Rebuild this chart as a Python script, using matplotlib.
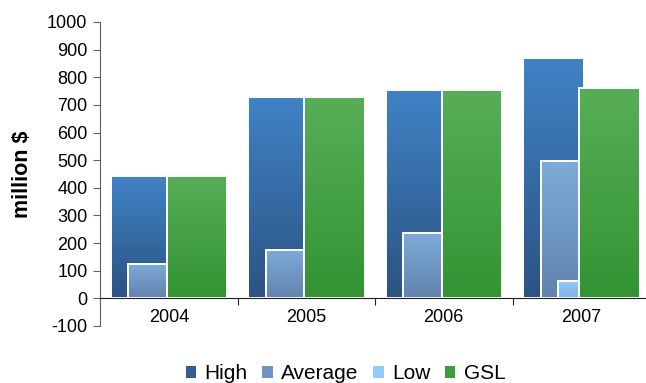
import numpy as np
import matplotlib
matplotlib.use("Agg")
from matplotlib import pyplot as plt
from matplotlib.colors import LinearSegmentedColormap
from matplotlib.patches import Patch

plt.rcParams['font.family'] = ['Liberation Sans', 'DejaVu Sans']
plt.rcParams['axes.unicode_minus'] = False

years = ['2004', '2005', '2006', '2007']
high = [442, 728, 754, 871]
average = [124, 174, 236, 496]
low = [0, 0, 0, 63]
gsl = [442, 728, 754, 762]

# (name, values, left offset inside category, width, top colour, bottom colour)
series = [
    ('High', high, 0.078, 0.44, '#4083c6', '#2b5382'),
    ('Average', average, 0.204, 0.31, '#7eabda', '#6183ad'),
    ('Low', low, 0.328, 0.19, '#95c9f8', '#7fb3e6'),
    ('GSL', gsl, 0.487, 0.44, '#58ae58', '#329432'),
]
legend_colors = ['#2f5f95', '#6d94c2', '#95c9f8', '#3d9c3d']

fig = plt.figure(figsize=(6.46, 3.83), dpi=100)
ax = fig.add_axes([100 / 646, 1 - 326 / 383, 550 / 646, 304 / 383])

grad = np.linspace(0, 1, 256).reshape(-1, 1)
for k, (name, vals, off, w, top, bottom) in enumerate(series):
    cmap = LinearSegmentedColormap.from_list(name, [bottom, top])
    for i, v in enumerate(vals):
        if v <= 0:
            continue
        x = i + off
        # vertical gradient fill, then a white outline on top of it
        ax.imshow(grad, cmap=cmap, origin='lower', aspect='auto',
                  extent=(x, x + w, 0, v), zorder=2 + k)
        ax.bar(x, v, width=w, align='edge', facecolor='none',
               edgecolor='white', linewidth=1.4, zorder=2 + k + 0.5)

ax.set_xlim(0, 4)
ax.set_ylim(-100, 1000)

ax.spines['top'].set_visible(False)
ax.spines['right'].set_visible(False)
ax.spines['left'].set_color('#606060')
ax.spines['bottom'].set_position(('data', 0))
ax.spines['bottom'].set_color('#202020')
ax.spines['bottom'].set_zorder(10)

ax.set_yticks(np.arange(-100, 1001, 100))
ax.tick_params(axis='y', direction='out', length=5, color='#606060',
               labelsize=13, pad=4)

# category boundaries carry the ticks, labels sit under the middles
ax.set_xticks([1, 2, 3])
ax.set_xticklabels([])
ax.tick_params(axis='x', which='major', direction='out', length=5,
               color='#202020')
ax.set_xticks([0.5, 1.5, 2.5, 3.5], minor=True)
ax.set_xticklabels(years, minor=True)
ax.tick_params(axis='x', which='minor', length=0, labelsize=13, pad=8)

ax.set_ylabel('million $', fontsize=15.5, fontweight='bold', labelpad=10)

handles = [Patch(facecolor=c, edgecolor='none') for c in legend_colors]
fig.legend(handles, [s[0] for s in series], loc='lower center',
           bbox_to_anchor=(0.535, -0.05), ncol=4, frameon=False, fontsize=15,
           handlelength=0.5, handleheight=0.5, handletextpad=0.4,
           columnspacing=0.7)

fig.savefig('out.png', dpi=100)
